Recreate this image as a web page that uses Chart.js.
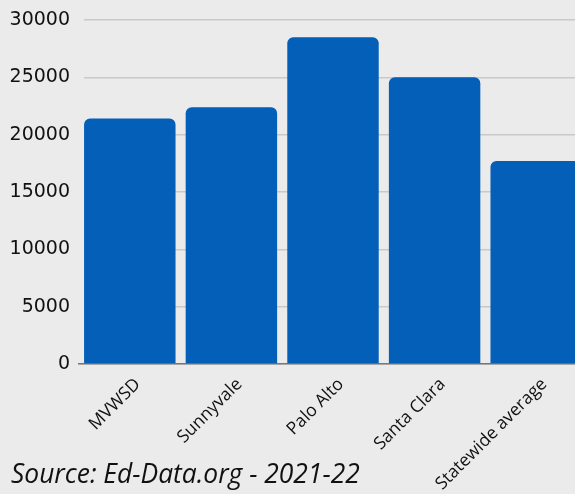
<!DOCTYPE html>
<html>
<head>
<meta charset="utf-8">
<script src="https://cdn.jsdelivr.net/npm/chart.js@4/dist/chart.umd.min.js"></script>
<style>
  html, body { margin: 0; padding: 0; background: #ebebeb; overflow: hidden; width: 575px; height: 494px; }
  #wrap { position: relative; width: 575px; height: 494px; overflow: hidden; }
  canvas { position: absolute; left: 0; top: 0; }
  #source { position: absolute; left: 11px; top: 460px; font-family: "Open Sans", sans-serif; font-style: italic; font-size: 26.4px; line-height: 1; color: #111; white-space: nowrap; }
</style>
</head>
<body>
<div id="wrap">
  <canvas id="c" width="587" height="494"></canvas>
  <div id="source">Source: Ed-Data.org - 2021-22</div>
</div>
<script>
const categories = ["MVWSD", "Sunnyvale", "Palo Alto", "Santa Clara", "Statewide average"];
const values = [21400, 22400, 28500, 25000, 17700];
const yTicks = [0, 5000, 10000, 15000, 20000, 25000, 30000];
const BG = '#ebebeb';

// hides the sliver of gridline left of the first bar (gridlines start flush with the first bar)
const gridTrim = {
  id: 'gridTrim',
  beforeDatasetsDraw(chart) {
    const meta = chart.getDatasetMeta(0);
    if (!meta.data.length) return;
    const bar = meta.data[0];
    const start = bar.x - bar.width / 2;
    const a = chart.chartArea;
    const ctx = chart.ctx;
    ctx.save();
    ctx.fillStyle = BG;
    ctx.fillRect(a.left - 2, a.top - 3, start - a.left + 2, a.bottom - a.top + 1);
    ctx.restore();
  }
};

new Chart(document.getElementById('c'), {
  type: 'bar',
  data: {
    labels: categories,
    datasets: [{
      data: values,
      backgroundColor: '#035fb7',
      borderRadius: { topLeft: 6, topRight: 6, bottomLeft: 0, bottomRight: 0 },
      borderSkipped: 'start',
      barPercentage: 0.9,
      categoryPercentage: 1.0
    }]
  },
  plugins: [gridTrim],
  options: {
    responsive: false,
    animation: false,
    layout: { autoPadding: false, padding: { top: 20, left: 0, right: 0, bottom: 0 } },
    plugins: { legend: { display: false }, tooltip: { enabled: false } },
    scales: {
      x: {
        grid: { display: false, drawTicks: false },
        border: { display: true, color: '#777', width: 1.5 },
        ticks: {
          minRotation: 45, maxRotation: 45, autoSkip: false, padding: 10, labelOffset: 8,
          color: '#111', font: { family: 'Open Sans', size: 17.5 }
        },
        afterFit(scale) {
          scale.height = 494 - 20 - 344;
          scale.paddingLeft = 0; scale.paddingRight = 0; scale.paddingTop = 0; scale.paddingBottom = 0;
        }
      },
      y: {
        min: 0, max: 30000,
        afterBuildTicks(scale) { scale.ticks = yTicks.map(v => ({ value: v })); },
        grid: { color: '#c9c9c9', lineWidth: 1.5, drawTicks: false },
        border: { display: false },
        ticks: {
          padding: 9, color: '#111',
          font: { family: 'DejaVu Sans', size: 19 },
          callback: (v) => String(v)
        },
        afterFit(scale) {
          scale.width = 79;
          scale.paddingLeft = 0; scale.paddingRight = 0; scale.paddingTop = 0; scale.paddingBottom = 0;
        }
      }
    }
  }
});
</script>
</body>
</html>
